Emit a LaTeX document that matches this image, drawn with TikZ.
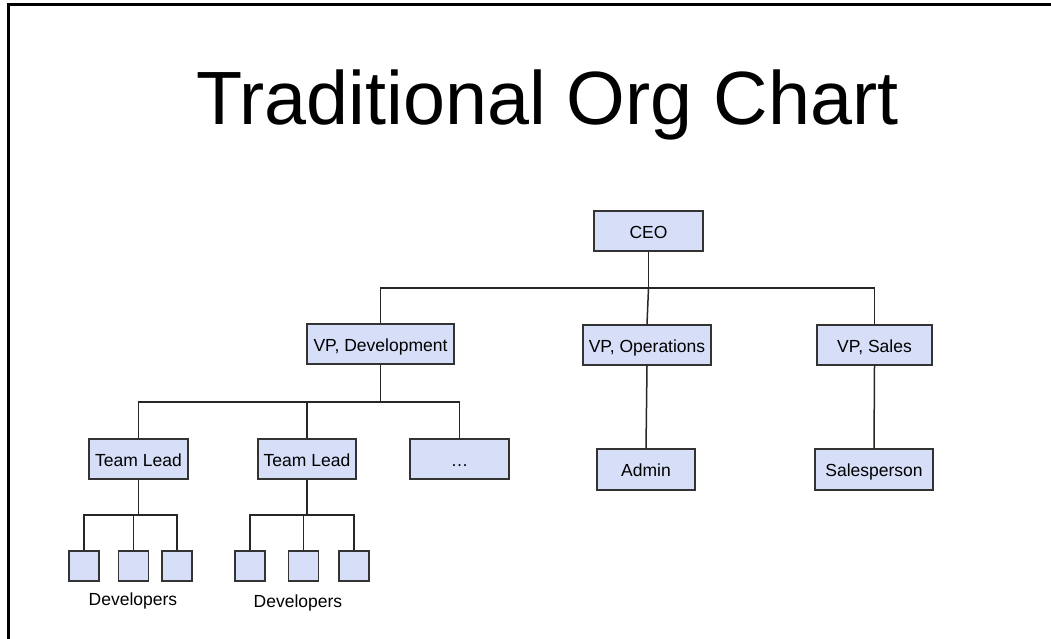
\documentclass[tikz,border=0pt]{standalone}
\usepackage{fontspec}
\setmainfont{Liberation Sans}
\begin{document}
\begin{tikzpicture}[x=1pt,y=-1pt,
  orgbox/.style={draw=black!80,line width=1.4pt,fill=boxblue,inner sep=0pt,text height=14pt,text depth=0pt,font=\fontsize{17.5}{20}\selectfont},
  devbox/.style={orgbox,minimum width=30pt,minimum height=30pt},
  link/.style={draw=black!85,line width=1.5pt},
  lbl/.style={font=\fontsize{17.5}{20}\selectfont,inner sep=0pt,text height=14pt,text depth=0pt}]
\definecolor{boxblue}{RGB}{214,222,248}
\useasboundingbox (0,0) rectangle (1051,639);
\draw[line width=3pt] (8,645) -- (8,5) -- (1060,5);
\node[anchor=base,inner sep=0pt,font=\fontsize{75.5}{80}\selectfont] (title) at (547.5,125) {Traditional Org Chart};

\node[orgbox,minimum width=109pt,minimum height=40pt] (ceo) at (648.5,231) {CEO};
\node[orgbox,minimum width=147pt,minimum height=40pt] (vpd) at (380.5,344) {VP, Development};
\node[orgbox,minimum width=128pt,minimum height=40pt] (vpo) at (647,345) {VP, Operations};
\node[orgbox,minimum width=115pt,minimum height=40pt] (vps) at (874.5,345) {VP, Sales};
\node[orgbox,minimum width=98pt,minimum height=41pt] (admin) at (646,469.5) {Admin};
\node[orgbox,minimum width=118pt,minimum height=41pt] (sales) at (874,469.5) {Salesperson};
\node[orgbox,minimum width=99pt,minimum height=40pt] (tl1) at (138.5,459) {Team Lead};
\node[orgbox,minimum width=98pt,minimum height=40pt] (tl2) at (307,459) {Team Lead};
\node[orgbox,minimum width=99pt,minimum height=40pt] (more) at (459.5,459) {\dots};

\node[devbox] (d1) at (84,566) {};
\node[devbox] (d2) at (133.5,566) {};
\node[devbox] (d3) at (177,566) {};
\node[devbox] (d4) at (250,566) {};
\node[devbox] (d5) at (303.5,566) {};
\node[devbox] (d6) at (354,566) {};
\node[lbl] (dl1) at (133,598) {Developers};
\node[lbl] (dl2) at (298,600) {Developers};

% CEO to VPs
\coordinate (b0) at (648.5,288);
\draw[link] (ceo.south) -- (b0);
\draw[link] (vpd.north) |- (b0) -| (vps.north);
\draw[link] (b0) -- (vpo.north);
\draw[link] (vpo.south) -- (admin.north);
\draw[link] (vps.south) -- (sales.north);

% VP Dev to team leads
\coordinate (b1) at (380.5,402);
\draw[link] (vpd.south) -- (b1);
\draw[link] (tl1.north) |- (b1) -| (more.north);
\draw[link] (tl2.north) -- (tl2.north |- b1);

% team lead 1 to devs
\coordinate (b2) at (138.5,515);
\draw[link] (tl1.south) -- (b2);
\draw[link] (d1.north) |- (b2) -| (d3.north);
\draw[link] (d2.north) -- (d2.north |- b2);

% team lead 2 to devs
\coordinate (b3) at (307,515);
\draw[link] (tl2.south) -- (b3);
\draw[link] (d4.north) |- (b3) -| (d6.north);
\draw[link] (d5.north) -- (d5.north |- b3);
\end{tikzpicture}
\end{document}
